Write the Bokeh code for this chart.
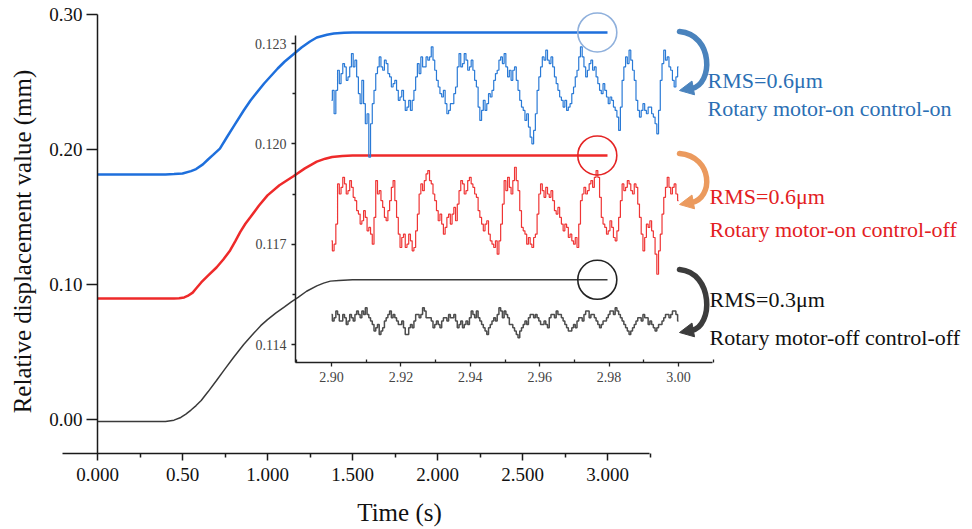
import math
from bokeh.plotting import figure
from bokeh.models import (Range1d, LinearAxis, FixedTicker, NumeralTickFormatter,
                          Label, Arrow, NormalHead)
from bokeh.embed import file_html
from bokeh.resources import INLINE

# ---------------- data ----------------
# main S-curves: time (s) and relative displacement (mm)
main_t_blue = [0.00, 0.40, 0.45, 0.50, 0.55, 0.58, 0.62, 0.65, 0.68, 0.72, 0.76, 0.80,
               0.86, 0.90, 0.98, 1.06, 1.10, 1.165, 1.20, 1.25, 1.29, 1.35, 1.39, 1.45,
               1.50, 3.00]
main_blue = [0.1815, 0.1815, 0.1818, 0.1822, 0.1840, 0.1855, 0.1890, 0.1926, 0.1960,
             0.2007, 0.2089, 0.2170, 0.2289, 0.2363, 0.2489, 0.2600, 0.2650, 0.2719,
             0.2755, 0.2800, 0.2830, 0.2850, 0.2859, 0.2865, 0.2867, 0.2867]

main_t_red = [0.00, 0.45, 0.48, 0.51, 0.53, 0.56, 0.58, 0.61, 0.65, 0.70, 0.74, 0.78,
              0.81, 0.84, 0.87, 0.90, 0.95, 1.00, 1.07, 1.15, 1.22, 1.29, 1.34, 1.38,
              1.44, 1.50, 3.00]
main_red = [0.0896, 0.0896, 0.0898, 0.0904, 0.0915, 0.0940, 0.0970, 0.1015, 0.1065,
            0.1126, 0.1185, 0.1252, 0.1320, 0.1390, 0.1450, 0.1500, 0.1585, 0.1660,
            0.1735, 0.1800, 0.1860, 0.1910, 0.1932, 0.1945, 0.1952, 0.1956, 0.1956]

main_t_black = [0.00, 0.40, 0.45, 0.49, 0.52, 0.55, 0.58, 0.61, 0.65, 0.70, 0.75, 0.80,
                0.86, 0.92, 0.96, 1.00, 1.05, 1.10, 1.14, 1.18, 1.23, 1.29, 1.33, 1.37,
                1.42, 1.50, 3.00]
main_black = [-0.0015, -0.0015, -0.0005, 0.0015, 0.0040, 0.0070, 0.0103, 0.0141, 0.0205,
              0.0289, 0.0375, 0.0459, 0.0555, 0.0640, 0.0695, 0.0740, 0.0790, 0.0835,
              0.0872, 0.0904, 0.0950, 0.0990, 0.1010, 0.1025, 0.1030, 0.1035, 0.1035]

# inset: readings every 1 ms from 2.900 s to 3.000 s (micrometres) ...
inset_blue_um = [
    121.3, 120.9, 122.2, 122.1, 122.3, 122.0, 122.7, 122.5, 121.5, 121.9,
    120.6, 119.6, 121.2, 122.1, 122.6, 122.2, 122.4, 122.0, 121.8, 121.6,
    121.4, 121.3, 121.1, 121.0, 121.6, 122.4, 122.6, 122.3, 122.5, 122.9,
    122.2, 121.7, 121.4, 121.2, 121.0, 121.2, 121.7, 122.7, 122.4, 122.5,
    122.3, 122.2, 121.7, 120.7, 121.3, 121.2, 121.4, 121.9, 122.2, 122.6,
    122.7, 122.0, 121.9, 122.3, 121.6, 121.1, 120.7, 120.5, 120.0, 120.9,
    122.0, 122.6, 122.8, 122.4, 122.3, 121.8, 121.4, 121.1, 121.0, 121.2,
    121.7, 122.2, 122.9, 122.3, 122.2, 122.5, 122.3, 121.8, 121.5, 121.6,
    121.2, 121.3, 121.0, 120.4, 121.9, 122.6, 122.8, 122.2, 121.3, 120.8,
    121.2, 120.9, 121.1, 120.8, 120.3, 121.9, 122.8, 122.6, 122.2, 121.7,
    122.3]
# ... and the jitter readings half-way between them (2.9005 s ... 2.9995 s)
inset_blue_mid_um = [
    121.6, 121.6, 121.8, 122.4, 121.9, 122.3, 122.3, 122.0, 121.2, 121.2,
    120.9, 120.6, 121.6, 122.3, 122.3, 122.5, 122.1, 121.7, 121.9, 121.3,
    121.6, 121.0, 121.3, 121.3, 122.0, 122.1, 122.3, 122.6, 122.6, 122.5,
    121.9, 121.5, 121.6, 120.9, 121.2, 121.5, 122.3, 122.3, 122.7, 122.2,
    122.5, 121.9, 121.1, 121.0, 121.0, 121.5, 121.6, 122.1, 122.5, 122.4,
    122.3, 122.2, 122.2, 121.9, 121.3, 121.0, 120.9, 120.2, 120.4, 121.6,
    122.3, 122.5, 122.5, 122.6, 122.0, 121.6, 121.3, 121.3, 121.1, 121.5,
    122.0, 122.6, 122.6, 122.0, 122.4, 122.2, 122.0, 121.6, 121.8, 121.4,
    121.4, 121.1, 120.8, 121.1, 122.3, 122.4, 122.5, 121.9, 121.0, 121.0,
    121.0, 121.1, 120.9, 120.6, 121.0, 122.4, 122.5, 122.3, 121.9, 122.0]

inset_red_um = [
    117.1, 117.0, 118.8, 118.7, 118.8, 118.6, 118.7, 118.3, 117.9, 117.7,
    117.8, 117.5, 117.0, 118.9, 118.6, 118.1, 117.7, 118.3, 118.9, 117.8,
    116.9, 117.3, 117.0, 117.1, 116.9, 117.9, 118.8, 118.9, 119.2, 118.8,
    118.3, 117.7, 117.6, 117.5, 117.9, 117.9, 117.7, 118.6, 118.8, 118.6,
    119.0, 118.7, 118.4, 117.8, 117.4, 117.7, 117.1, 116.9, 116.7, 117.6,
    118.9, 119.0, 118.5, 119.3, 118.6, 117.5, 117.3, 117.2, 116.9, 117.3,
    118.5, 118.6, 118.7, 118.4, 118.3, 117.9, 117.8, 117.4, 117.5, 117.3,
    117.0, 116.9, 118.3, 118.7, 118.6, 118.9, 119.0, 119.0, 117.8, 117.5,
    117.4, 117.5, 117.1, 117.8, 118.8, 118.7, 118.8, 118.5, 118.7, 117.8,
    116.8, 117.6, 117.7, 117.2, 116.1, 117.3, 118.4, 119.0, 118.5, 118.8,
    118.3]
inset_red_mid_um = [
    116.8, 117.6, 118.5, 119.0, 118.5, 118.9, 118.4, 118.0, 117.6, 118.0,
    117.4, 117.3, 117.8, 118.5, 118.3, 117.8, 118.0, 118.7, 118.3, 117.3,
    117.2, 116.9, 117.3, 116.8, 117.4, 118.5, 118.6, 119.1, 118.9, 118.5,
    118.0, 117.9, 117.3, 117.8, 117.6, 118.1, 118.2, 118.9, 118.5, 118.9,
    118.8, 118.5, 118.0, 117.6, 117.6, 117.3, 117.0, 117.1, 117.1, 118.2,
    118.6, 118.7, 118.9, 118.9, 118.0, 117.4, 117.0, 117.0, 117.2, 117.9,
    118.8, 118.4, 118.5, 118.6, 118.0, 118.1, 117.6, 117.6, 117.2, 117.1,
    117.2, 117.6, 118.5, 118.5, 118.8, 118.7, 119.2, 118.4, 117.6, 117.3,
    117.7, 117.2, 117.4, 118.3, 118.6, 118.9, 118.6, 118.8, 118.2, 117.3,
    117.2, 117.5, 117.4, 116.7, 116.8, 117.9, 118.7, 118.7, 118.7, 118.5]

inset_black_um = [
    114.9, 114.8, 114.9, 114.7, 114.8, 114.7, 114.8, 114.9, 114.9, 115.0,
    115.1, 114.8, 114.6, 114.5, 114.3, 114.5, 114.8, 115.0, 114.9, 114.7,
    114.6, 114.5, 114.3, 114.6, 114.7, 114.9, 114.9, 115.0, 114.8, 114.7,
    114.6, 114.6, 114.7, 114.8, 114.9, 114.8, 114.7, 114.6, 114.5, 114.7,
    114.8, 114.9, 115.0, 114.7, 114.5, 114.3, 114.6, 114.8, 114.9, 115.0,
    115.0, 114.8, 114.6, 114.4, 114.2, 114.5, 114.7, 114.8, 114.9, 114.9,
    114.7, 114.6, 114.6, 114.8, 114.9, 115.0, 114.9, 114.7, 114.5, 114.4,
    114.6, 114.7, 114.8, 114.9, 115.0, 114.9, 114.8, 114.6, 114.6, 114.7,
    114.9, 115.0, 115.1, 114.9, 114.7, 114.5, 114.3, 114.5, 114.7, 114.8,
    114.9, 114.8, 114.7, 114.5, 114.5, 114.6, 114.8, 114.9, 114.9, 115.0,
    114.7]
inset_black_mid_um = [
    114.7, 115.0, 114.7, 114.9, 114.6, 114.9, 114.7, 115.0, 114.8, 114.9,
    114.9, 114.7, 114.4, 114.6, 114.4, 114.7, 114.9, 114.8, 114.8, 114.6,
    114.7, 114.3, 114.5, 114.5, 114.9, 114.8, 115.1, 114.8, 114.8, 114.5,
    114.7, 114.5, 114.8, 114.7, 114.8, 114.9, 114.5, 114.7, 114.6, 114.6,
    115.0, 114.8, 114.8, 114.6, 114.4, 114.5, 114.7, 114.7, 115.1, 114.8,
    114.9, 114.6, 114.5, 114.3, 114.4, 114.6, 114.6, 114.9, 114.8, 114.8,
    114.6, 114.7, 114.5, 114.9, 114.8, 114.9, 114.8, 114.6, 114.4, 114.5,
    114.5, 114.8, 114.7, 115.0, 114.8, 114.9, 114.7, 114.5, 114.7, 114.8,
    115.0, 114.9, 115.0, 114.8, 114.6, 114.4, 114.4, 114.6, 114.8, 114.7,
    114.8, 114.6, 114.6, 114.4, 114.6, 114.7, 114.9, 114.8, 115.0, 114.9]

# ticks
main_xticks = [0.0, 0.5, 1.0, 1.5, 2.0, 2.5, 3.0]
main_xtick_labels = ["0.000", "0.50", "1.000", "1.500", "2.000", "2.500", "3.000"]
main_xminor = [0.25, 0.75, 1.25, 1.75, 2.25, 2.75, 3.25]
main_yticks = [0.0, 0.1, 0.2, 0.3]
inset_xticks = [2.90, 2.92, 2.94, 2.96, 2.98, 3.00]
inset_xminor = [2.89, 2.91, 2.93, 2.95, 2.97, 2.99, 3.01]
inset_yticks = [0.114, 0.117, 0.120, 0.123]
inset_yminor = [0.1155, 0.1185, 0.1215]

# annotations
circle_t = [2.94, 2.94, 2.94]
circle_v = [0.2867, 0.1956, 0.1035]
rms_labels = ["RMS=0.6\u03bcm", "RMS=0.6\u03bcm", "RMS=0.3\u03bcm"]
case_labels = ["Rotary motor-on control-on", "Rotary motor-on control-off",
               "Rotary motor-off control-off"]


def interleave(whole, mid):
    out = []
    for i, v in enumerate(whole):
        out.append(v / 1000.0)
        if i < len(mid):
            out.append(mid[i] / 1000.0)
    return out


inset_t = [round(2.900 + 0.0005 * i, 4) for i in range(2 * len(inset_blue_um) - 1)]

# ---------------- layout helpers (pixel geometry) ----------------
W, H = 972, 529
MPX_PER_S, MPX_PER_MM = 170.0, 1350.0
M_X0_PX, M_Y0_PX = 97.0, 419.0          # pixel of t=0 and of 0 mm
I_PX_PER_S, I_PX_PER_MM = 3470.0, 301.0 / 0.009
I_X0_PX, I_Y0_PX = 331.0, 43.0          # pixel of 2.90 s and of 0.123 mm


def mx(px):
    return (px - M_X0_PX) / MPX_PER_S


def my(py):
    return (M_Y0_PX - py) / MPX_PER_MM


def ix(px):
    return 2.90 + (px - I_X0_PX) / I_PX_PER_S


def iy(py):
    return 0.123 - (py - I_Y0_PX) / I_PX_PER_MM


SERIF = "Liberation Serif"

p = figure(width=W, height=H, output_backend="svg", toolbar_location=None, tools="",
           x_axis_type=None, y_axis_type=None, title=None,
           x_range=Range1d(mx(0), mx(W)), y_range=Range1d(my(H), my(0)),
           min_border=0, outline_line_color=None,
           background_fill_color="white", border_fill_color="white")
p.extra_x_ranges = {"ix": Range1d(ix(0), ix(W))}
p.extra_y_ranges = {"iy": Range1d(iy(H), iy(0))}

# ---------------- main axes ----------------
xax = LinearAxis(fixed_location=my(453), bounds=(mx(62), mx(649)),
                 ticker=FixedTicker(ticks=main_xticks, minor_ticks=main_xminor),
                 major_label_overrides=dict(zip(main_xticks, main_xtick_labels)))
yax = LinearAxis(fixed_location=0.0, bounds=(my(453), 0.30),
                 ticker=FixedTicker(ticks=main_yticks, minor_ticks=[]),
                 formatter=NumeralTickFormatter(format="0.00"))
for ax in (xax, yax):
    ax.axis_line_color = "#1a1a1a"
    ax.axis_line_width = 1.5
    ax.major_tick_line_color = "#1a1a1a"
    ax.major_tick_line_width = 1.5
    ax.minor_tick_line_color = "#1a1a1a"
    ax.minor_tick_line_width = 1.5
    ax.major_tick_in = 0
    ax.minor_tick_in = 0
    ax.major_label_text_font = SERIF
    ax.major_label_text_font_size = "19px"
    ax.major_label_text_color = "#111111"
xax.major_tick_out = 7
xax.minor_tick_out = 4
xax.major_label_standoff = 7
yax.major_tick_out = 11
yax.minor_tick_out = 0
yax.major_label_standoff = 4
p.add_layout(xax, "below")
p.add_layout(yax, "left")

# ---------------- inset axes ----------------
ixax = LinearAxis(x_range_name="ix", y_range_name="iy", fixed_location=iy(362),
                  bounds=(ix(295), ix(712)),
                  ticker=FixedTicker(ticks=inset_xticks, minor_ticks=inset_xminor),
                  formatter=NumeralTickFormatter(format="0.00"))
iyax = LinearAxis(x_range_name="ix", y_range_name="iy", fixed_location=ix(295),
                  bounds=(iy(362), iy(35)),
                  ticker=FixedTicker(ticks=inset_yticks, minor_ticks=inset_yminor),
                  formatter=NumeralTickFormatter(format="0.000"))
for ax in (ixax, iyax):
    ax.axis_line_color = "#222222"
    ax.axis_line_width = 1.5
    ax.major_tick_line_color = "#222222"
    ax.major_tick_line_width = 1.3
    ax.minor_tick_line_color = "#222222"
    ax.minor_tick_line_width = 1.3
    ax.major_tick_in = 0
    ax.major_tick_out = 4
    ax.major_label_text_font = SERIF
    ax.major_label_text_font_size = "14px"
    ax.major_label_text_color = "#444444"
    ax.major_label_standoff = 5
ixax.minor_tick_in = 3
ixax.minor_tick_out = 0
iyax.minor_tick_in = 0
iyax.minor_tick_out = 3
p.add_layout(ixax, "below")
p.add_layout(iyax, "left")

# ---------------- main curves ----------------
p.line(main_t_blue, main_blue, line_color="#1e6fdc", line_width=2.5)
p.line(main_t_red, main_red, line_color="#ee2a2a", line_width=2.5)
p.line(main_t_black, main_black, line_color="#3a3a3a", line_width=1.5)

# ---------------- inset signals ----------------
p.step(inset_t, interleave(inset_blue_um, inset_blue_mid_um), mode="center",
       line_color="#2a7ad6", line_width=1.2, x_range_name="ix", y_range_name="iy")
p.step(inset_t, interleave(inset_red_um, inset_red_mid_um), mode="center",
       line_color="#ef3535", line_width=1.2, x_range_name="ix", y_range_name="iy")
p.step(inset_t, interleave(inset_black_um, inset_black_mid_um), mode="center",
       line_color="#4d4d4d", line_width=1.5, x_range_name="ix", y_range_name="iy")

# ---------------- circles ----------------
p.scatter(circle_t, circle_v, marker="circle", size=39, fill_color=None,
          line_color=["#8fb0dc", "#e42424", "#222222"], line_width=1.6)

# ---------------- curved arrows ----------------
arrow_specs = [(30, 90, "#4a83bd"), (152, 204, "#eb9a5e"), (268, 332, "#3c3c3c")]
for top, tip, col in arrow_specs:
    p.bezier(x0=[mx(679)], y0=[my(top + 1)], x1=[mx(691)], y1=[my(tip - 2)],
             cx0=[mx(713)], cy0=[my(top + 4)], cx1=[mx(713)], cy1=[my(tip - 6)],
             line_color=col, line_width=5.5, line_cap="round")
    p.add_layout(Arrow(x_start=mx(695), y_start=my(tip - 3), x_end=mx(679), y_end=my(tip),
                       line_alpha=0, line_width=0,
                       end=NormalHead(size=14, fill_color=col, line_color=col)))

# ---------------- text labels ----------------
text_rows = [
    (707, 80, 108, "#2b6fb4"),
    (709, 196, 229, "#e3201f"),
    (709, 299, 337, "#111111"),
]
for (x0, y_rms, y_case, col), rms, case in zip(text_rows, rms_labels, case_labels):
    p.add_layout(Label(x=mx(x0), y=my(y_rms), text=rms, text_font=SERIF,
                       text_font_size="22px", text_color=col,
                       text_baseline="middle", text_align="left"))
    p.add_layout(Label(x=mx(x0), y=my(y_case), text=case, text_font=SERIF,
                       text_font_size="22px", text_color=col,
                       text_baseline="middle", text_align="left"))

p.add_layout(Label(x=mx(399), y=my(512), text="Time (s)", text_font=SERIF,
                   text_font_size="25px", text_color="#111111",
                   text_baseline="middle", text_align="center"))
p.add_layout(Label(x=mx(22), y=my(241), text="Relative displacement value (mm)",
                   text_font=SERIF, text_font_size="25px", text_color="#111111",
                   angle=math.pi / 2, text_baseline="middle", text_align="center"))

open("out.html", "w").write(file_html(p, INLINE))
